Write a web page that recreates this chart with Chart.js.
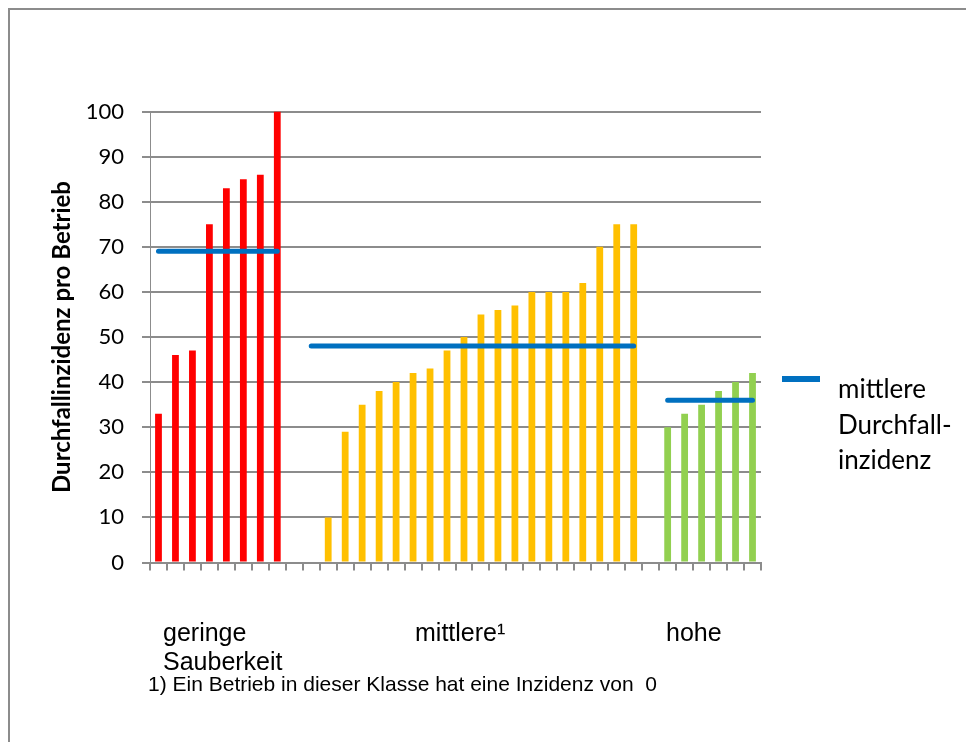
<!DOCTYPE html>
<html>
<head>
<meta charset="utf-8">
<script src="https://cdn.jsdelivr.net/npm/chart.js@4.4.0/dist/chart.umd.min.js"></script>
<style>
  html, body { margin: 0; padding: 0; background: #fff; }
  #wrap { position: relative; width: 966px; height: 742px; overflow: hidden; }
  #rahmen { position: absolute; left: 8px; top: 8px; width: 1000px; height: 800px; border: 2px solid #8c8c8c; box-sizing: border-box; }
  #chart { position: absolute; left: 0; top: 0; }
</style>
</head>
<body>
<div id="wrap">
  <div id="rahmen"></div>
  <canvas id="chart" width="966" height="742"></canvas>
</div>
<script>
// Durchfallinzidenz je Betrieb, nach Sauberkeitsklasse sortiert
const klassen = [['geringe', 'Sauberkeit'], ['mittlere\u00b9'], ['hohe']];
const geringe = [33, 46, 47, 75, 83, 85, 86, 100];
const mittlere = [0, 10, 29, 35, 38, 40, 42, 43, 47, 50, 55, 56, 57, 60, 60, 60, 62, 70, 75, 75];
const hohe = [30, 33, 35, 38, 40, 42];
const mittelwerte = [69, 48, 36];
const farben = ['#FF0000', '#FFC000', '#92D050'];
const yTicks = [0, 10, 20, 30, 40, 50, 60, 70, 80, 90, 100];
const legendeText = ['mittlere', 'Durchfall-', 'inzidenz'];
const fussnote = '1) Ein Betrieb in dieser Klasse hat eine Inzidenz von  0';

const gruppen = [geringe, mittlere, hohe];

// jede Gruppe bekommt ihre Spalten, dazwischen eine leere Spalte
let slots = [];
gruppen.forEach((g, gi) => {
  if (gi > 0) slots.push(-1);
  g.forEach((v, i) => slots.push({ g: gi, i: i }));
});
const labels = slots.map((s, i) => String(i + 1));

const balken = gruppen.map((g, gi) => ({
  type: 'bar',
  label: klassen[gi].join(' '),
  data: slots.map(s => (s !== -1 && s.g === gi) ? g[s.i] : null),
  backgroundColor: farben[gi],
  barPercentage: 0.4,
  categoryPercentage: 1.0,
  grouped: false,
  order: 1
}));

const mittelLinie = {
  type: 'line',
  label: 'mittlere Durchfallinzidenz',
  data: slots.map(s => s === -1 ? null : mittelwerte[s.g]),
  borderColor: '#0070C0',
  borderWidth: 5,
  borderCapStyle: 'round',
  pointRadius: 0,
  spanGaps: false,
  order: 0
};

const beschriftung = {
  id: 'beschriftung',
  afterDraw(chart) {
    const ctx = chart.ctx;
    const area = chart.chartArea;
    ctx.save();
    ctx.fillStyle = '#000';
    ctx.textAlign = 'left';
    ctx.textBaseline = 'alphabetic';

    // Klassen unter der Achse
    const klassenX = [163, 415, 666];
    ctx.font = '25px "Liberation Sans", Arial, sans-serif';
    klassen.forEach((zeilen, k) => {
      zeilen.forEach((z, j) => ctx.fillText(z, klassenX[k], area.bottom + 78 + j * 29));
    });

    ctx.font = '21px "Liberation Sans", Arial, sans-serif';
    ctx.fillText(fussnote, 148, area.bottom + 128);

    // Legende rechts
    ctx.strokeStyle = '#0070C0';
    ctx.lineWidth = 6;
    ctx.beginPath();
    ctx.moveTo(782, 379);
    ctx.lineTo(820, 379);
    ctx.stroke();
    ctx.font = '26px Lato, "Open Sans", sans-serif';
    legendeText.forEach((z, j) => ctx.fillText(z, 838, 398 + j * 35.5));
    ctx.restore();
  }
};

new Chart(document.getElementById('chart'), {
  data: { labels: labels, datasets: [...balken, mittelLinie] },
  options: {
    responsive: false,
    animation: false,
    layout: { padding: { top: 111.5, right: 205, left: 0, bottom: 0 } },
    plugins: { legend: { display: false }, tooltip: { enabled: false } },
    scales: {
      x: {
        type: 'category',
        offset: true,
        ticks: { display: false },
        grid: { offset: true, drawOnChartArea: false, drawTicks: true, tickLength: 8, color: '#8c8c8c', lineWidth: 2 },
        border: { display: true, color: '#8c8c8c', width: 2 },
        afterFit: s => { s.height = 742 - 562.5; }
      },
      y: {
        min: 0,
        max: 100,
        afterBuildTicks: s => { s.ticks = yTicks.map(v => ({ value: v })); },
        ticks: { color: '#000', padding: 18, font: { family: 'Lato', size: 22 } },
        grid: { color: '#8c8c8c', lineWidth: 2, tickLength: 8 },
        border: { display: true, color: '#8c8c8c', width: 1 },
        title: {
          display: true,
          text: 'Durchfallinzidenz pro Betrieb',
          color: '#000',
          font: { family: 'Lato', size: 24, weight: 'bold' },
          padding: { top: 48, bottom: 0 }
        },
        afterFit: s => { s.width = 150; }
      }
    }
  },
  plugins: [beschriftung]
});
</script>
</body>
</html>
